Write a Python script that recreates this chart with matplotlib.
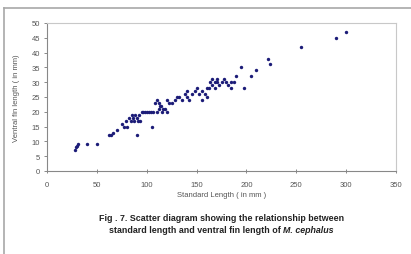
import numpy as np
import matplotlib.pyplot as plt
from matplotlib.lines import Line2D

# Standard length (mm) vs ventral fin length (mm)
standard_length = [28, 29, 30, 31, 40, 50, 62, 64, 66, 70, 75, 77, 79, 80, 82,
                   84, 85, 86, 87, 88, 90, 91, 92, 90, 93, 95, 96, 98, 100, 102,
                   104, 105, 106, 108, 110, 112, 113, 115, 116, 118, 120, 110, 112, 114,
                   120, 122, 125, 128, 130, 132, 135, 138, 140, 142, 140, 145, 148, 150,
                   152, 155, 155, 158, 160, 160, 162, 163, 165, 165, 168, 170, 168, 172,
                   170, 175, 178, 180, 182, 185, 185, 190, 188, 195, 198, 205, 210, 222,
                   224, 255, 290, 300]
ventral_fin = [7, 8, 8.5, 9, 9, 9, 12, 12, 13, 14, 16, 15, 17, 15, 18,
               17, 19, 18, 17, 19, 18, 17, 19, 12, 17, 20, 20, 20, 20, 20,
               20, 15, 20, 23, 20, 21, 22, 20, 21, 21, 20, 24, 23, 22,
               24, 23, 23, 24, 25, 25, 24, 26, 25, 24, 27, 26, 27, 28,
               26, 24, 27, 26, 28, 25, 28, 30, 29, 31, 30, 30, 28, 29,
               31, 30, 31, 30, 29, 30, 28, 32, 30, 35, 28, 32, 34, 38,
               36, 42, 45, 47]

x_ticks = [0, 50, 100, 150, 200, 250, 300, 350]
y_ticks = [0, 5, 10, 15, 20, 25, 30, 35, 40, 45, 50]

plt.rcParams['font.family'] = ['Liberation Sans', 'DejaVu Sans']

fig = plt.figure(figsize=(4.11, 2.55), dpi=100)
ax = fig.add_axes([47 / 411, 1 - 172 / 255, (396 - 47) / 411, (172 - 24) / 255])

ax.scatter(standard_length, ventral_fin, s=6, color='#1c1c78', linewidths=0, zorder=3)

ax.set_xlim(0, 350)
ax.set_ylim(0, 50)
ax.set_xticks(x_ticks)
ax.set_yticks(y_ticks)
ax.tick_params(axis='both', labelsize=5.5, labelcolor='#555555', color='#777777',
               length=2, width=0.6)
ax.tick_params(axis='x', direction='inout', length=3, pad=6)
ax.tick_params(axis='y', pad=3)

for side in ['left', 'bottom']:
    ax.spines[side].set_color('#888888')
    ax.spines[side].set_linewidth(0.8)
for side in ['top', 'right']:
    ax.spines[side].set_color('#c8c8c8')
    ax.spines[side].set_linewidth(0.8)

ax.set_xlabel('Standard Length ( in mm )', fontsize=5.5, color='#555555', labelpad=2)
ax.set_ylabel('Ventral fin length ( in mm)', fontsize=5.5, color='#555555', labelpad=8)

# chart area frame (top and left edges visible)
fig.add_artist(Line2D([4 / 411, 1], [1 - 9 / 255, 1 - 9 / 255], color='#a8a8a8', lw=1.2))
fig.add_artist(Line2D([4 / 411, 4 / 411], [0, 1 - 9 / 255], color='#a8a8a8', lw=1.2))

# caption
cap_kw = dict(fontsize=6.4, fontweight='bold', color='#222222', va='center')
fig.text(0.538, 1 - 219 / 255, 'Fig . 7. Scatter diagram showing the relationship between',
         ha='center', **cap_kw)

renderer = fig.canvas.get_renderer()
part1 = fig.text(0, 1 - 231 / 255, 'standard length and ventral fin length of ', ha='left', **cap_kw)
part2 = fig.text(0, 1 - 231 / 255, 'M. cephalus', ha='left', style='italic', **cap_kw)
w1 = part1.get_window_extent(renderer).width
w2 = part2.get_window_extent(renderer).width
start = 0.538 * fig.bbox.width - (w1 + w2) / 2
part1.set_x(start / fig.bbox.width)
part2.set_x((start + w1) / fig.bbox.width)

fig.savefig('out.png', dpi=100)
